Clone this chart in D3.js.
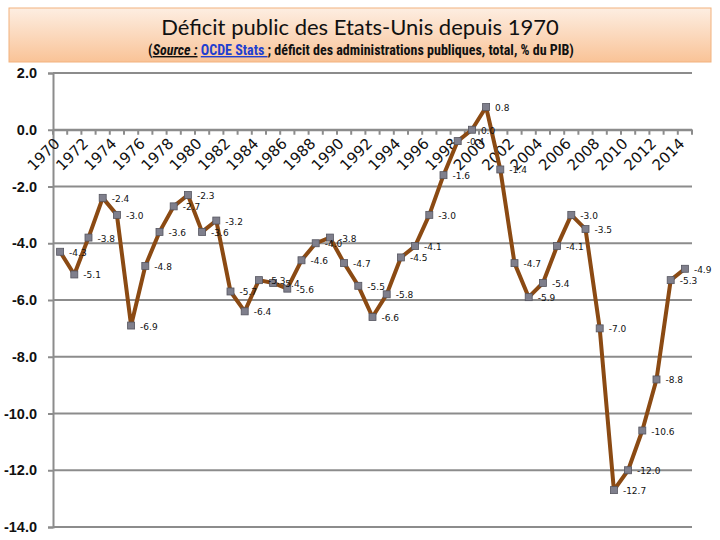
<!DOCTYPE html>
<html><head><meta charset="utf-8">
<script src="https://cdn.jsdelivr.net/npm/d3@7"></script>
<style>body{margin:0;background:#fff}svg{display:block}</style>
</head><body>
<svg id="c" width="720" height="540"></svg>
<script>
const years = d3.range(1970, 2015);
const values = [-4.3,-5.1,-3.8,-2.4,-3.0,-6.9,-4.8,-3.6,-2.7,-2.3,
  -3.6,-3.2,-5.7,-6.4,-5.3,-5.4,-5.6,-4.6,-4.0,-3.8,
  -4.7,-5.5,-6.6,-5.8,-4.5,-4.1,-3.0,-1.6,-0.4,0.0,
  0.8,-1.4,-4.7,-5.9,-5.4,-4.1,-3.0,-3.5,-7.0,-12.7,
  -12.0,-10.6,-8.8,-5.3,-4.9];
const yTicks = [2,0,-2,-4,-6,-8,-10,-12,-14];
const title = "Déficit public des Etats-Unis depuis 1970";

const fmt = v => v.toFixed(1);

const svg = d3.select("#c");
// title box
const defs = svg.append("defs");
const g = defs.append("linearGradient").attr("id","tg").attr("x1",0).attr("x2",0).attr("y1",0).attr("y2",1);
g.append("stop").attr("offset","0%").attr("stop-color","#fdeee2");
g.append("stop").attr("offset","100%").attr("stop-color","#f9c397");
svg.append("rect").attr("x",9).attr("y",8).attr("width",702).attr("height",54)
  .attr("fill","url(#tg)").attr("stroke","#f2b27e").attr("stroke-width",1);
svg.append("text").attr("x",360).attr("y",35).attr("text-anchor","middle")
  .attr("font-family","Lato, 'Open Sans', sans-serif").attr("font-size",22).attr("fill","#111")
  .text(title);
const st = svg.append("text").attr("x",361).attr("y",55).attr("text-anchor","middle")
  .attr("font-family","'Liberation Sans Narrow', 'Roboto Condensed', Roboto, sans-serif")
  .attr("font-size",14).attr("font-weight","bold").attr("fill","#111");
st.append("tspan").text("(");
st.append("tspan").attr("font-style","italic").attr("text-decoration","underline").text("Source :");
st.append("tspan").text(" ");
st.append("tspan").attr("fill","#1f3fd0").attr("text-decoration","underline").text("OCDE Stats ");
st.append("tspan").text("; déficit des administrations publiques, total, % du PIB)");

const x0 = 53, x1 = 692;
const x = d3.scaleBand().domain(years).range([x0, x1]).paddingInner(0).paddingOuter(0);
const y = d3.scaleLinear().domain([-14, 2]).range([527, 73]);

// gridlines
svg.append("g").selectAll("line").data(yTicks).join("line")
  .attr("x1",x0).attr("x2",x1).attr("y1",d=>y(d)).attr("y2",d=>y(d))
  .attr("stroke","#8c8c8c").attr("stroke-width",2);

// y axis
const ya = svg.append("g").attr("transform",`translate(${x0},0)`)
  .call(d3.axisLeft(y).tickValues(yTicks).tickSize(5).tickPadding(11).tickFormat(fmt));
ya.select(".domain").attr("stroke","#8c8c8c").attr("stroke-width",2);
ya.selectAll(".tick line").attr("stroke","#8c8c8c").attr("stroke-width",2);
ya.selectAll("text").attr("font-family","'Liberation Sans', sans-serif").attr("font-weight","bold")
  .attr("font-size",14.5).attr("fill","#111");

// x axis at 0
const xa = svg.append("g").attr("transform",`translate(0,${y(0)})`)
  .call(d3.axisBottom(x).tickSize(0).tickFormat(""));
xa.select(".domain").attr("stroke","#8c8c8c").attr("stroke-width",2);
svg.append("g").selectAll("line").data(years.concat([2015])).join("line")
  .attr("x1",d=> d===2015 ? x1 : x(d)).attr("x2",d=> d===2015 ? x1 : x(d))
  .attr("y1",y(0)).attr("y2",y(0)+5).attr("stroke","#8c8c8c").attr("stroke-width",2);
svg.append("g").selectAll("text").data(years.filter(d=>d%2===0)).join("text")
  .attr("transform",d=>`translate(${x(d)+x.bandwidth()/2-3},${y(0)+11}) rotate(-45)`)
  .attr("text-anchor","end").attr("dy","0.35em")
  .attr("font-family","'DejaVu Sans', sans-serif").attr("font-size",15).attr("fill","#111")
  .text(d=>d);

// line
const data = years.map((yr,i)=>({yr, v: values[i]}));
const cx = d => x(d.yr) + x.bandwidth()/2;
svg.append("path").datum(data)
  .attr("d", d3.line().x(cx).y(d=>y(d.v)))
  .attr("fill","none").attr("stroke","#8b4a13").attr("stroke-width",4).attr("stroke-linejoin","round");
svg.append("g").selectAll("rect").data(data).join("rect")
  .attr("x",d=>cx(d)-3.5).attr("y",d=>y(d.v)-3.5).attr("width",7).attr("height",7)
  .attr("fill","#7f7f8c").attr("stroke","#55555f").attr("stroke-width",0.8);
svg.append("g").selectAll("text").data(data).join("text")
  .attr("x",d=>cx(d)+9).attr("y",d=>y(d.v)+4)
  .attr("font-family","'DejaVu Sans', sans-serif").attr("font-size",9).attr("fill","#111")
  .text(d=>fmt(d.v));
</script>
</body></html>
